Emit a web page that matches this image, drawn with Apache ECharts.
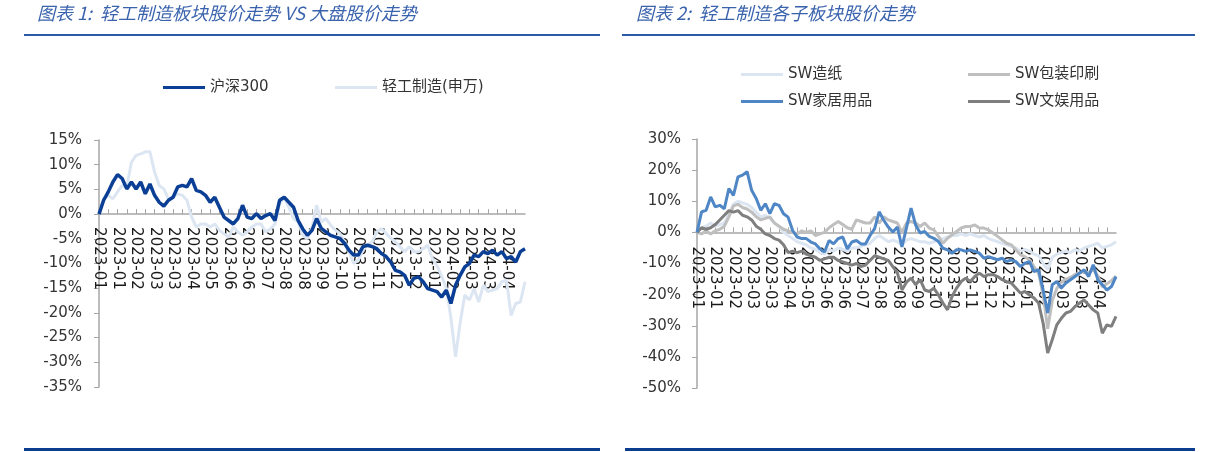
<!DOCTYPE html>
<html>
<head>
<meta charset="utf-8">
<script src="https://cdn.jsdelivr.net/npm/echarts@6/dist/echarts.min.js"></script>
<style>
html,body{margin:0;padding:0;background:#fff;}
#c{width:1207px;height:452px;}
</style>
</head>
<body>
<div id="c"></div>
<script>
// ---- tick labels (category axis, one label every 4 points) ----
const xTickLabels = ['2023-01','2023-01','2023-02','2023-03','2023-03','2023-04','2023-05','2023-06','2023-06','2023-07','2023-08','2023-08','2023-09','2023-10','2023-10','2023-11','2023-12','2023-12','2024-01','2024-02','2024-03','2024-03','2024-04'];

// ---- Chart 1 series (cumulative return, %) ----
const hs300 = [0,2.8,4.5,6.5,8.0,7.2,5.1,6.5,5.1,6.5,4.1,6.1,3.8,2.4,1.6,2.8,3.4,5.5,5.8,5.5,7.2,4.8,4.5,3.8,2.4,3.4,1.4,-0.6,-1.3,-2.0,-0.9,1.8,-0.6,-0.9,0.1,-0.9,-0.3,0.1,-1.3,2.8,3.4,2.4,1.4,-1.3,-3.0,-4.3,-3.3,
  -0.9,-2.9,-3.6,-4.3,-4.6,-4.9,-5.9,-7.3,-8.3,-8.3,-6.6,-6.3,-6.6,-7.0,-8.0,-8.6,-9.7,-11.4,-11.7,-12.4,-14.4,-13.0,-12.7,-13.7,-15.1,-15.4,-15.7,-16.8,-15.4,-18.1,-14.4,-12.4,-10.7,-10.0,-8.3,-8.6,-7.6,-8.0,-7.3,-8.3,-7.6,-9.0,-8.6,-9.7,-7.6,-7.0];
const lightInd = [0,3.1,3.8,3.1,4.5,5.8,5.5,10.5,11.9,12.2,12.6,12.6,8.5,5.8,5.1,3.1,3.4,4.1,3.8,2.8,-0.6,-2.6,-2.0,-2.0,-2.6,-2.0,-3.3,-4.0,-4.7,-2.6,-3.6,-4.3,-3.6,-2.6,-2.0,-2.0,-3.6,-3.0,-2.0,2.1,3.4,1.4,-0.9,-1.6,-4.3,-5.0,-2.6,
  1.8,-1.6,-0.9,-2.2,-3.2,-3.9,-5.6,-7.6,-10.0,-9.3,-7.3,-6.3,-5.6,-3.6,-2.9,-3.9,-4.9,-5.6,-6.6,-7.6,-6.6,-7.6,-7.6,-7.0,-6.3,-9.0,-10.5,-12.5,-15.0,-21.0,-28.9,-22.0,-16.4,-17.4,-15.1,-17.8,-14.4,-15.7,-15.4,-15.1,-13.7,-13.4,-20.5,-18.1,-17.8,-13.7];

// ---- Chart 2 series (cumulative return, %) ----
const swPaper = [0,1.5,2,3,2,2.5,3,6,9,10,9.5,9,8,6.5,5,5.5,4.5,3,2,0,-1,-2,-3,-3.5,-4,-5,-5.5,-6.5,-7,-5.5,-6,-5,-5.5,-6,-5,-5,-4.5,-4,-3.5,-2,-1,-2,-3,-2.5,-3,-4,-2.5,
  -2,-2.5,-3,-3,-3.5,-3,-2.5,-2,-1.5,-1,-1,-0.5,-1,-0.5,-1,-1.5,-1,-2,-2.5,-3,-3.5,-4,-4.5,-5,-6,-5.5,-6,-7,-7.5,-10,-12,-8,-7,-6.5,-6,-6.5,-5.5,-6,-5,-4.5,-4,-3.5,-5,-4.5,-4,-3];
const swPack = [0,-0.5,0.5,-0.5,0.5,1,2,5,8.5,9,8,7.5,6.5,5,4,4.5,5,3,2,1,0.5,0,-0.5,0.5,0,0.5,-1,-0.5,0,1.5,2.5,3.5,2.5,1.5,1,4,3.5,3,3,5,3,5,4,3.5,3,0,3,
  3.5,3.0,1.9,3.0,1.4,0.8,-1.3,-3.5,-1.9,-0.8,0.3,1.4,1.9,1.9,2.4,1.4,1.4,0.8,-0.2,-1.3,-2.4,-3.5,-4.0,-5.6,-7.2,-7.8,-8.8,-11.0,-13.1,-20,-31,-22,-18,-16,-15,-14.5,-13.5,-13,-12.5,-13,-12,-14,-17.5,-16.5,-15.5,-14];
const swHome = [0,6.6,7.1,11.4,8.2,8.7,7.6,14.1,11.9,17.8,18.4,19.5,13.5,10.9,7.1,9.2,6.0,9.2,8.7,6.0,4.9,0.6,-1.5,-2.0,-2.0,-3.1,-3.7,-5.3,-6.3,-2.6,-3.7,-2.0,-1.5,-5.3,-3.1,-2.6,-3.7,-3.7,-1.0,1.2,6.6,3.9,1.7,0.1,1.7,-4.7,1.5,
  7.8,2.4,-0.2,0.3,-1.3,-1.9,-2.9,-5.1,-5.6,-6.7,-5.6,-5.6,-6.1,-5.6,-6.1,-6.7,-8.3,-7.8,-8.3,-8.8,-8.3,-9.4,-8.8,-9.4,-11.0,-9.9,-9.4,-12.6,-12.0,-18.5,-25.9,-16.8,-15.8,-17.9,-16.3,-15.2,-14.2,-13.1,-12.0,-14.2,-10.4,-15.2,-16.8,-18.5,-17.4,-14.2];
const swLeisure = [0,1.5,1,1.5,2.5,4,5.5,7,6.5,7,5.5,5,4,2,1,-0.5,-1,-2,-2.5,-4,-6.5,-6,-6.5,-6,-7,-7.5,-8,-9,-8.5,-8,-8,-9,-9.5,-10,-10.5,-10,-11,-10.5,-9,-7.5,-8,-8.5,-9,-11,-13,-18.5,-16,
  -14.7,-16.8,-15.2,-18.5,-19.0,-17.9,-20.1,-22.7,-24.9,-20.6,-17.9,-15.8,-14.7,-15.8,-14.2,-13.1,-14.2,-13.6,-13.6,-14.2,-15.2,-15.8,-16.3,-17.9,-19.5,-19.0,-20.1,-21.1,-22.7,-29.2,-38.8,-34.5,-29.7,-27.6,-25.9,-25.4,-23.8,-22.7,-21.7,-23.3,-24.9,-25.9,-32.4,-29.7,-30.2,-27.0];

// ---- axis ranges ----
const y1Range = { min: -35, max: 15, interval: 5 };
const y2Range = { min: -50, max: 30, interval: 10 };

const cats = hs300.map((_, i) => 'p' + i);
const lastIdx = cats.length - 1;

const FONT = '"DejaVu Sans", "Noto Sans CJK SC", sans-serif';
const AXIS_COLOR = '#a6a6a6';

const grids = [
  { left: 99, top: 140, width: 426, height: 247 },
  { left: 697, top: 139, width: 419, height: 249 }
];

// place the category axis on the value 0 of its value axis
function zeroOffset(grid, r) {
  return -grid.height * (0 - r.min) / (r.max - r.min);
}

function xAxisCfg(gi, margin, r) {
  return {
    gridIndex: gi, type: 'category', data: cats, boundaryGap: false,
    position: 'bottom', offset: zeroOffset(grids[gi], r),
    axisLine: { onZero: false, lineStyle: { color: AXIS_COLOR, width: 1.5 } },
    axisTick: { inside: true, length: 5, interval: (i) => i % 2 === 0 && i < lastIdx, lineStyle: { color: AXIS_COLOR } },
    axisLabel: {
      rotate: -90, margin: margin,
      interval: (i) => i % 4 === 0 && i < lastIdx,
      formatter: (v, i) => xTickLabels[i / 4] || '',
      fontSize: 15, color: '#1a1a1a', fontFamily: FONT
    },
    splitLine: { show: false }
  };
}
function yAxisCfg(gi, r, margin) {
  return {
    gridIndex: gi, type: 'value', min: r.min, max: r.max, interval: r.interval,
    axisLine: { show: true, lineStyle: { color: AXIS_COLOR, width: 1.5 } },
    axisTick: { show: true, length: 5, lineStyle: { color: AXIS_COLOR } },
    splitLine: { show: false },
    axisLabel: { formatter: '{value}%', fontSize: 15, margin: margin, color: '#333', fontFamily: FONT }
  };
}
function lineSeries(name, data, gi, color, width, z) {
  return {
    name: name, type: 'line', data: data, xAxisIndex: gi, yAxisIndex: gi,
    symbol: 'none', showSymbol: false, z: z,
    color: color,
    lineStyle: { color: color, width: width },
    itemStyle: { color: color }
  };
}
function legendCfg(name, left, top) {
  return {
    data: [name], left: left, top: top, icon: 'rect', itemWidth: 42, itemHeight: 3,
    textStyle: { fontSize: 15, color: '#333', fontFamily: FONT }
  };
}

const chart = echarts.init(document.getElementById('c'), null, { renderer: 'canvas' });
chart.setOption({
  animation: false,
  backgroundColor: '#ffffff',
  grid: grids,
  xAxis: [xAxisCfg(0, 13, y1Range), xAxisCfg(1, 14, y2Range)],
  yAxis: [yAxisCfg(0, y1Range, 17), yAxisCfg(1, y2Range, 16)],
  legend: [
    legendCfg('沪深300', 158, 75),
    legendCfg('轻工制造(申万)', 330, 75),
    legendCfg('SW造纸', 736, 62),
    legendCfg('SW包装印刷', 963, 62),
    legendCfg('SW家居用品', 736, 89),
    legendCfg('SW文娱用品', 963, 89)
  ],
  series: [
    lineSeries('轻工制造(申万)', lightInd, 0, '#dce6f2', 3, 2),
    lineSeries('沪深300', hs300, 0, '#0b3f95', 3.5, 3),
    lineSeries('SW造纸', swPaper, 1, '#dce6f2', 3, 2),
    lineSeries('SW包装印刷', swPack, 1, '#bfbfbf', 3, 3),
    lineSeries('SW文娱用品', swLeisure, 1, '#7f7f7f', 3, 4),
    lineSeries('SW家居用品', swHome, 1, '#4f86c6', 3, 5)
  ],
  graphic: [
    { type: 'text', left: 37, top: 4, style: { text: '图表 1:  轻工制造板块股价走势 VS 大盘股价走势', font: 'italic 18px "Noto Sans CJK SC", sans-serif', fill: '#3a63ad' } },
    { type: 'text', left: 636, top: 4, style: { text: '图表 2:  轻工制造各子板块股价走势', font: 'italic 18px "Noto Sans CJK SC", sans-serif', fill: '#3a63ad' } },
    { type: 'rect', shape: { x: 24, y: 34, width: 576, height: 2 }, style: { fill: '#2a5ba8' } },
    { type: 'rect', shape: { x: 622, y: 34, width: 573, height: 2 }, style: { fill: '#2a5ba8' } },
    { type: 'rect', shape: { x: 24, y: 448, width: 576, height: 3 }, style: { fill: '#0c3e8f' } },
    { type: 'rect', shape: { x: 625, y: 448, width: 570, height: 3 }, style: { fill: '#0c3e8f' } }
  ]
});
</script>
</body>
</html>
